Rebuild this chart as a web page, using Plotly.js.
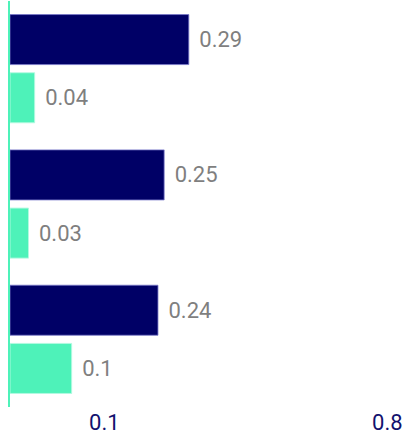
<!DOCTYPE html>
<html>
<head>
<meta charset="utf-8">
<script src="https://cdn.plot.ly/plotly-3.0.1.min.js"></script>
<style>html,body{margin:0;padding:0;background:#fff;}#chart{width:404px;height:439px;}</style>
</head>
<body>
<div id="chart"></div>
<script>
var categories = ['Group A', 'Group B', 'Group C'];
var seriesNavy = [0.29, 0.25, 0.24];
var seriesMint = [0.04, 0.03, 0.1];
var tickLabels = ['0.1', '0.8'];

var navy = '#000066';
var mint = '#4ef2b9';

function fmt(v) { return '\u2004' + v; }

var traces = [
  {
    type: 'bar', orientation: 'h', name: 'A',
    y: categories, x: seriesNavy,
    text: seriesNavy.map(fmt),
    textposition: 'outside', cliponaxis: false,
    textfont: {family: 'Roboto', size: 22, color: '#7f7f7f'},
    marker: {color: navy, line: {color: 'rgba(120,120,200,0.8)', width: 1}},
    hoverinfo: 'none'
  },
  {
    type: 'bar', orientation: 'h', name: 'B',
    y: categories, x: seriesMint,
    text: seriesMint.map(fmt),
    textposition: 'outside', cliponaxis: false,
    textfont: {family: 'Roboto', size: 22, color: '#7f7f7f'},
    marker: {color: mint, line: {color: 'rgba(180,250,225,0.9)', width: 1}},
    hoverinfo: 'none'
  }
];

var layout = {
  width: 404, height: 439,
  margin: {l: 10, r: 0, t: 1, b: 32, pad: 0},
  paper_bgcolor: '#ffffff', plot_bgcolor: '#ffffff',
  showlegend: false,
  barmode: 'group', bargap: 0.14, bargroupgap: 0.14,
  font: {family: 'Roboto', color: navy},
  xaxis: {
    range: [0, 0.639], showgrid: false, zeroline: false, showline: false,
    tickmode: 'array', tickvals: [0.153, 0.612], ticktext: tickLabels,
    ticks: '', ticklen: 0, tickfont: {family: 'Roboto', size: 22, color: '#12126e'},
    fixedrange: true
  },
  yaxis: {
    autorange: 'reversed', showticklabels: false, ticks: '',
    showgrid: false, zeroline: false,
    showline: true, linecolor: mint, linewidth: 2,
    fixedrange: true
  }
};

Plotly.newPlot('chart', traces, layout, {displayModeBar: false, staticPlot: true});
</script>
</body>
</html>
